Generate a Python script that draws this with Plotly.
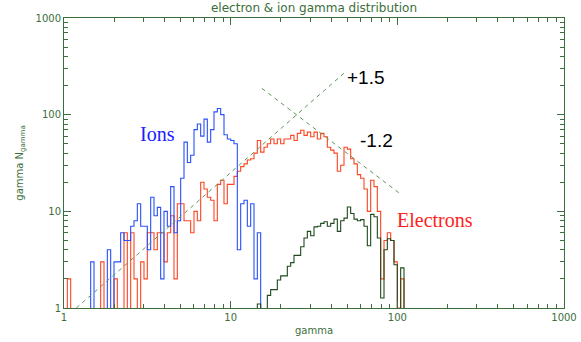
import numpy as np
import plotly.graph_objects as go

# ---- data ----
LOG_BIN_WIDTH = 0.02  # histogram bins in log10(gamma)

electron_start_bin = 1
electron_values = [2, 0, 0, 0, 0, 0, 0, 0, 0, 0, 3, 0, 0, 0, 2, 0, 0, 6, 0, 6, 2, 0, 3, 2,
                   6, 6, 4, 6, 6, 3, 6, 9, 2, 12, 12, 8, 8, 6, 10, 8, 20, 17, 14, 13, 8, 19,
                   21, 12, 19, 19, 23, 26, 29, 31, 34, 35, 40, 54, 41, 46, 50, 56, 50, 56, 50,
                   56, 56, 61, 54, 64, 69, 61, 66, 59, 66, 56, 64, 59, 46, 43, 40, 26, 30, 46,
                   44, 35, 31, 24, 22, 17, 10, 21, 18, 10, 2, 5, 6, 5, 3, 1, 2]

ion_start_bin = 8
ion_values = [3, 0, 0, 0, 0, 4, 0, 3, 3, 6, 5, 5, 7, 8, 12, 7, 7, 4, 14, 9, 11, 2, 10, 7,
              18, 6, 8, 22, 52, 32, 38, 70, 80, 60, 90, 52, 70, 107, 116, 100, 62, 56, 54,
              50, 4, 12, 13, 7, 12, 2, 6]

hot_start_bin = 58
hot_values = [1.1, 0, 0, 1.35, 1.55, 1.55, 1.95, 2.15, 2.15, 2.7, 2.95, 3.5, 3.5, 4.3, 5.3,
              6.2, 5.6, 6.9, 7.0, 7.5, 7.8, 7.0, 7.5, 8.3, 6.2, 8.0, 8.5, 11.1, 9.5, 8.3,
              8.0, 8.2, 7.0, 4.4, 9.3, 8.8, 5.3, 1.27, 4.0, 5.2, 5.0, 2.8, 0, 2.6]

slope_up_gamma = [1.185, 48.5]
slope_up_n = [1.0, 274.0]
slope_down_gamma = [15.4, 106.6]
slope_down_n = [187.0, 14.7]

x_tick_vals = [1, 10, 100, 1000]
x_tick_text = ["1", "10", "100", "1000"]
y_tick_vals = [1, 10, 100, 1000]
y_tick_text = ["1", "10", "100", "1000"]
minor_vals = [m * d for d in (1, 10, 100) for m in range(2, 10)]

AXIS_COLOR = "#3b6e3b"
TEXT_COLOR = "#3b6e3b"
FLOOR = 0.05  # empty bins drawn below the axis (clipped)


def step_xy(start_bin, values):
    v = np.asarray(values, dtype=float)
    edges = 10 ** (LOG_BIN_WIDTH * np.arange(start_bin, start_bin + len(v) + 1))
    y = np.where(v > 0, v, FLOOR)
    xs = np.concatenate([[edges[0]], edges])
    ys = np.concatenate([[FLOOR], y, [FLOOR]])
    return xs, ys


fig = go.Figure()

for start, vals, color in [
    (electron_start_bin, electron_values, "#ff4422"),
    (ion_start_bin, ion_values, "#2850ff"),
    (hot_start_bin, hot_values, "#1f4a1f"),
]:
    xs, ys = step_xy(start, vals)
    fig.add_trace(go.Scatter(x=xs, y=ys, mode="lines", line=dict(color=color, width=1.1, shape="hv"),
                             hoverinfo="skip", showlegend=False))

for gx, ny in [(slope_up_gamma, slope_up_n), (slope_down_gamma, slope_down_n)]:
    fig.add_trace(go.Scatter(x=gx, y=ny, mode="lines",
                             line=dict(color="#5a965a", width=1, dash="4px,4px"),
                             hoverinfo="skip", showlegend=False))

axis_common = dict(
    type="log", range=[0, 3], showgrid=False, zeroline=False, automargin=False,
    showline=True, linecolor=AXIS_COLOR, linewidth=1, mirror="ticks",
    ticks="inside", ticklen=7, tickcolor=AXIS_COLOR, tickwidth=1,
    tickfont=dict(family="DejaVu Sans", size=10, color=TEXT_COLOR),
    minor=dict(tickvals=minor_vals, ticks="inside", ticklen=4, tickcolor=AXIS_COLOR, showgrid=False),
)

fig.update_layout(
    width=581, height=342,
    margin=dict(l=64, r=17, t=18, b=34),
    paper_bgcolor="white", plot_bgcolor="white",
    title=dict(text="electron & ion gamma distribution", x=0.5, xanchor="center",
               y=0.976, yanchor="middle", xref="paper",
               font=dict(family="DejaVu Sans", size=12, color=TEXT_COLOR)),
    xaxis=dict(axis_common, tickvals=x_tick_vals, ticktext=x_tick_text,
               title=dict(text="gamma", standoff=4,
                          font=dict(family="DejaVu Sans", size=10, color=TEXT_COLOR))),
    yaxis=dict(axis_common, tickvals=y_tick_vals, ticktext=y_tick_text,
               title=dict(text="gamma N<sub>gamma</sub>", standoff=10,
                          font=dict(family="DejaVu Sans", size=10, color=TEXT_COLOR))),
    annotations=[
        dict(text="+1.5", x=1.812, y=2.386, xref="x", yref="y", showarrow=False,
             font=dict(family="Liberation Sans", size=19, color="black")),
        dict(text="-1.2", x=1.872, y=1.736, xref="x", yref="y", showarrow=False,
             font=dict(family="Liberation Sans", size=19, color="black")),
        dict(text="Ions", x=0.558, y=1.797, xref="x", yref="y", showarrow=False,
             font=dict(family="Liberation Serif", size=20, color="#2020ff")),
        dict(text="Electrons", x=2.226, y=0.909, xref="x", yref="y", showarrow=False,
             font=dict(family="Liberation Serif", size=20, color="#ff2020")),
    ],
)

fig.write_html("out.html", config={"displayModeBar": False},
               post_script="document.body.style.margin='0px';")
